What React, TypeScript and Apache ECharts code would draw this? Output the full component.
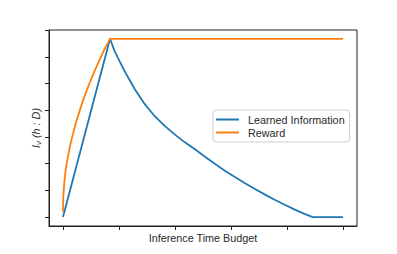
import React, { useEffect, useRef } from "react";
import * as echarts from "echarts";

const xTicks = [0, 1, 2, 3, 4, 5];
const yTicks = [0, 1, 2, 3, 4, 5, 6, 7];

const learnedX = [0, 0.84, 0.923, 1.102, 1.28, 1.46, 1.638, 1.815, 1.994, 2.17, 2.35, 2.53, 2.71, 2.89, 3.07, 3.25, 3.42, 3.6, 3.78, 3.96, 4.14, 4.3, 4.46, 5.0];
const learnedY = [0, 6.68, 6.21, 5.46, 4.8, 4.23, 3.78, 3.42, 3.1, 2.81, 2.55, 2.27, 2.0, 1.74, 1.5, 1.27, 1.06, 0.85, 0.65, 0.46, 0.28, 0.13, 0.0, 0.0];

const rewardX = [0, 0.005, 0.025, 0.05, 0.084, 0.125, 0.173, 0.23, 0.293, 0.365, 0.441, 0.515, 0.589, 0.665, 0.739, 0.84, 5.0];
const rewardY = [0.2, 0.75, 1.33, 1.82, 2.21, 2.66, 3.08, 3.53, 3.96, 4.42, 4.84, 5.23, 5.59, 5.95, 6.28, 6.68, 6.68];

const zip = (xs: number[], ys: number[]) => xs.map((x, i) => [x, ys[i]]);

export default function App() {
  const ref = useRef<HTMLDivElement>(null);
  useEffect(() => {
    if (!ref.current) return;
    const chart = echarts.init(ref.current, null, { renderer: "svg" });
    const font = "Liberation Sans";
    const fs = 10.8;
    const tc = "#2a2a2a";
    chart.setOption({
      animation: false,
      backgroundColor: "#ffffff",
      textStyle: { fontFamily: font },
      grid: {
        left: 49,
        top: 30,
        right: 40,
        bottom: 28,
        show: true,
        borderColor: "#222",
        borderWidth: 1,
        backgroundColor: "transparent",
      },
      legend: {
        orient: "vertical",
        left: 213,
        top: 110,
        padding: [4, 5, 4, 3],
        itemGap: 2,
        itemWidth: 23,
        itemHeight: 2,
        icon: "rect",
        backgroundColor: "rgba(255,255,255,0.8)",
        borderColor: "#d0d0d0",
        borderWidth: 1,
        borderRadius: 3,
        textStyle: { fontFamily: font, fontSize: fs, color: tc, padding: [0, 0, 0, 4] },
        data: ["Learned Information", "Reward"],
      },
      xAxis: {
        type: "value",
        min: -0.25,
        max: 5.25,
        name: "Inference Time Budget",
        nameLocation: "middle",
        nameGap: 6,
        nameTextStyle: { fontFamily: font, fontSize: fs, color: tc, verticalAlign: "top" },
        axisLine: { show: true, onZero: false, lineStyle: { color: "#222", width: 1 } },
        axisTick: { show: true, inside: false, length: 4, lineStyle: { color: "#222" }, customValues: xTicks },
        axisLabel: { show: false },
        splitLine: { show: false },
      },
      yAxis: {
        type: "value",
        min: -0.334,
        max: 7.01,
        name: "{i|I}{s|ν} {i|(h : D)}",
        nameLocation: "middle",
        nameGap: 7,
        nameRotate: 90,
        nameTextStyle: {
          fontFamily: font,
          fontSize: fs,
          color: tc,
          rich: {
            i: { fontFamily: font, fontSize: fs, fontStyle: "italic", color: tc },
            s: { fontFamily: font, fontSize: 8, fontStyle: "italic", color: tc, verticalAlign: "bottom", padding: [4, 0, 0, 0] },
          },
        },
        axisLine: { show: true, onZero: false, lineStyle: { color: "#222", width: 1 } },
        axisTick: { show: true, inside: false, length: 4, lineStyle: { color: "#222" }, customValues: yTicks },
        axisLabel: { show: false },
        splitLine: { show: false },
      },
      series: [
        {
          name: "Learned Information",
          type: "line",
          data: zip(learnedX, learnedY),
          showSymbol: false,
          symbol: "none",
          lineStyle: { color: "#1f77b4", width: 1.8 },
          itemStyle: { color: "#1f77b4" },
        },
        {
          name: "Reward",
          type: "line",
          data: zip(rewardX, rewardY),
          showSymbol: false,
          symbol: "none",
          lineStyle: { color: "#ff7f0e", width: 1.8 },
          itemStyle: { color: "#ff7f0e" },
        },
      ],
    });
    return () => chart.dispose();
  }, []);
  return <div ref={ref} style={{ width: 397, height: 254, position: "absolute", left: 0, top: 0 }} />;
}
